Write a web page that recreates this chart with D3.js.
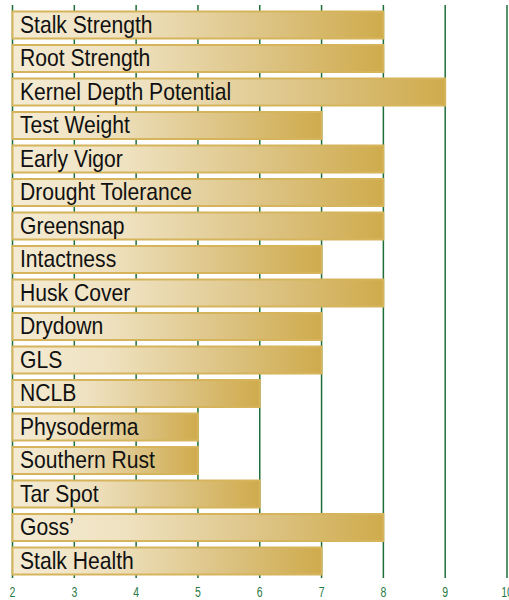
<!DOCTYPE html>
<html>
<head>
<meta charset="utf-8">
<script src="https://cdn.jsdelivr.net/npm/d3@7"></script>
<style>
  body { margin: 0; background: #fff; }
  svg { display: block; }
</style>
</head>
<body>
<svg></svg>
<script>
var traits = ["Stalk Strength", "Root Strength", "Kernel Depth Potential", "Test Weight",
  "Early Vigor", "Drought Tolerance", "Greensnap", "Intactness", "Husk Cover", "Drydown",
  "GLS", "NCLB", "Physoderma", "Southern Rust", "Tar Spot", "Goss\u2019", "Stalk Health"];
var ratings = [8, 8, 9, 7, 8, 8, 8, 7, 8, 7, 7, 6, 5, 5, 6, 8, 7];
var tickValues = [2, 3, 4, 5, 6, 7, 8, 9, 10];

var width = 509;
var height = 600;
var font = "'Liberation Sans', Arial, sans-serif";

var svg = d3.select("svg")
            .attr("width", width)
            .attr("height", height);

var x = d3.scaleLinear()
          .domain([2, 10])
          .range([12.5, 507]);

var y = d3.scaleBand()
          .domain(traits)
          .range([8.25, 577.75])
          .paddingInner(0.194)
          .paddingOuter(0.097);

// gradient for bars
var grad = svg.append("defs")
              .append("linearGradient")
              .attr("id", "gold")
              .attr("x1", "0%").attr("x2", "100%")
              .attr("y1", "0%").attr("y2", "0%");
grad.append("stop").attr("offset", "0%").attr("stop-color", "#f4ebd3");
grad.append("stop").attr("offset", "30%").attr("stop-color", "#efe2c1");
grad.append("stop").attr("offset", "70%").attr("stop-color", "#dcc281");
grad.append("stop").attr("offset", "100%").attr("stop-color", "#cfab4c");

// gridlines
svg.selectAll("line.grid")
   .data(tickValues)
   .enter()
   .append("line")
   .attr("class", "grid")
   .attr("x1", function(d) { return x(d); })
   .attr("x2", function(d) { return x(d); })
   .attr("y1", 5)
   .attr("y2", 578)
   .attr("stroke", "#1f6e3a")
   .attr("stroke-width", 1.5);

// tick labels (condensed look by squeezing horizontally)
svg.selectAll("text.tick")
   .data(tickValues)
   .enter()
   .append("text")
   .attr("class", "tick")
   .text(function(d) { return d; })
   .attr("transform", function(d) { return "translate(" + x(d) + ",597) scale(0.75,1)"; })
   .attr("text-anchor", "middle")
   .attr("font-family", font)
   .attr("font-size", 14)
   .attr("fill", "#2b7a46");

// bars
svg.selectAll("rect.bar")
   .data(traits)
   .enter()
   .append("rect")
   .attr("class", "bar")
   .attr("x", x(2))
   .attr("y", function(d) { return y(d); })
   .attr("width", function(d, i) { return x(ratings[i]) - x(2); })
   .attr("height", y.bandwidth())
   .attr("fill", "url(#gold)")
   .attr("stroke", "#d6b45c")
   .attr("stroke-width", 2);

// bar labels
svg.selectAll("text.label")
   .data(traits)
   .enter()
   .append("text")
   .attr("class", "label")
   .text(function(d) { return d; })
   .attr("transform", function(d) { return "translate(20," + (y(d) + 21.5) + ") scale(0.88,1)"; })
   .attr("font-family", font)
   .attr("font-size", 24)
   .attr("fill", "#111");
</script>
</body>
</html>
